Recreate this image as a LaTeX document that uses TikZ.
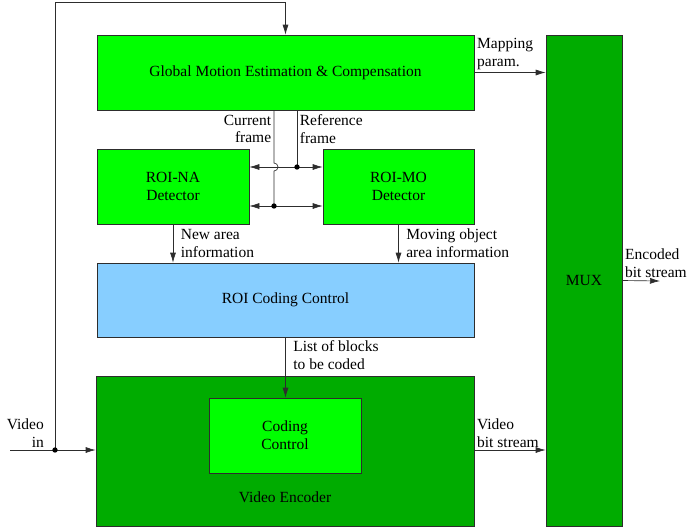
\documentclass[tikz,border=0pt]{standalone}
\usepackage{fontspec}
\setmainfont{LiberationSerif}[Extension=.ttf, UprightFont=*-Regular, BoldFont=*-Bold]
\usetikzlibrary{arrows.meta}
\definecolor{brightgreen}{RGB}{0,255,0}
\definecolor{darkgreen}{RGB}{0,172,0}
\definecolor{roiblue}{RGB}{135,206,255}
\definecolor{edge}{RGB}{45,45,45}
\begin{document}
\begin{tikzpicture}[x=0.6pt, y=-0.6pt, font={\fontsize{9.3}{10.6}\selectfont}]
	\tikzstyle{block} = [ draw=edge, rectangle, thin, inner sep=0pt, align=center, minimum height=45pt];
	\tikzstyle{info} = [ inner sep=1.5pt, align=left];
	\tikzstyle{point} = [ draw=edge, -{Latex[length=6pt, width=3.6pt]}, thin];
	\tikzstyle{both} = [ draw=edge, {Latex[length=6pt, width=3.6pt]}-{Latex[length=6pt, width=3.6pt]}, thin];
	\tikzstyle{dot} = [ fill=black, circle, inner sep=0pt, minimum size=3.2pt];

	\useasboundingbox (0,0) rectangle (688,529);

	% blocks
	\node[block, fill=brightgreen, minimum width=226.2pt] (gme) at (285.5,72.5) {Global Motion Estimation \& Compensation};
	\node[block, fill=brightgreen, minimum width=91.2pt] (roina) at (173,186.5) {ROI-NA\\Detector};
	\node[block, fill=brightgreen, minimum width=90.6pt] (roimo) at (398.5,186.5) {ROI-MO\\Detector};
	\node[block, fill=roiblue, minimum width=226.2pt, minimum height=44.4pt] (roicc) at (285.5,300) {ROI Coding Control};
	\node[block, fill=darkgreen, minimum width=226.8pt, minimum height=90pt] (venc) at (285,451) {};
	\node[block, fill=brightgreen, minimum width=91.2pt] (cc) at (285,435.5) {Coding\\Control};
	\node (venclabel) at (285,497) {Video Encoder};
	\node[block, fill=darkgreen, minimum width=45.6pt, minimum height=294.6pt] (mux) at (584,280.5) {MUX};

	% taps
	\coordinate (vin) at (10,450);
	\coordinate (vsplit) at (55,450);
	\coordinate (looptop) at (55,2);
	\coordinate (cur) at (274,110);
	\coordinate (ref) at (297,110);
	\coordinate (up) at (0,167);
	\coordinate (lo) at (0,206);
	\coordinate (encout) at (660,281);

	% video in
	\draw[point] (vin) -- (vin -| venc.west);
	\draw[point] (vsplit) -- (looptop) -| (gme.north);
	\node[dot] (vdot) at (vsplit) {};
	\node[info, anchor=south east, align=right] (vinlabel) at ([xshift=-5pt]vsplit) {Video\\in};

	% frames
	\draw[draw=edge, thin] (gme.south -| ref) -- (ref |- up);
	\draw[draw=edge, thin] (gme.south -| cur) -- ([yshift=2.4pt]cur |- up) arc[start angle=90, end angle=-90, radius=2.4pt] -- (cur |- lo);
	\draw[both] (roina.east |- up) -- (roimo.west |- up);
	\draw[both] (roina.east |- lo) -- (roimo.west |- lo);
	\node[dot] (refdot) at (ref |- up) {};
	\node[dot] (curdot) at (cur |- lo) {};
	\node[info, anchor=east, align=right] (curlabel) at (cur |- 0,129) {Current\\frame};
	\node[info, anchor=west] (reflabel) at (ref |- 0,129) {Reference\\frame};

	% detectors to control
	\draw[point] (roina.south) -- node[info, right, xshift=3pt] {New area\\information} (roina.south |- roicc.north);
	\draw[point] (roimo.south) -- node[info, right, xshift=3pt] {Moving object\\area information} (roimo.south |- roicc.north);
	\draw[point] (roicc.south) -- node[info, right, pos=0.3, xshift=3pt] {List of blocks\\to be coded} (roicc.south |- cc.north);

	% into the mux
	\draw[point] (gme.east) -- node[info, pos=0, anchor=south west] {Mapping\\param.} (gme.east -| mux.west);
	\draw[point] (venc.east |- vin) -- node[info, pos=0, anchor=south west] {Video\\bit stream} (mux.west |- vin);
	\draw[point] (mux.east) -- node[info, pos=0, anchor=south west] {Encoded\\bit stream} (encout);
\end{tikzpicture}
\end{document}
